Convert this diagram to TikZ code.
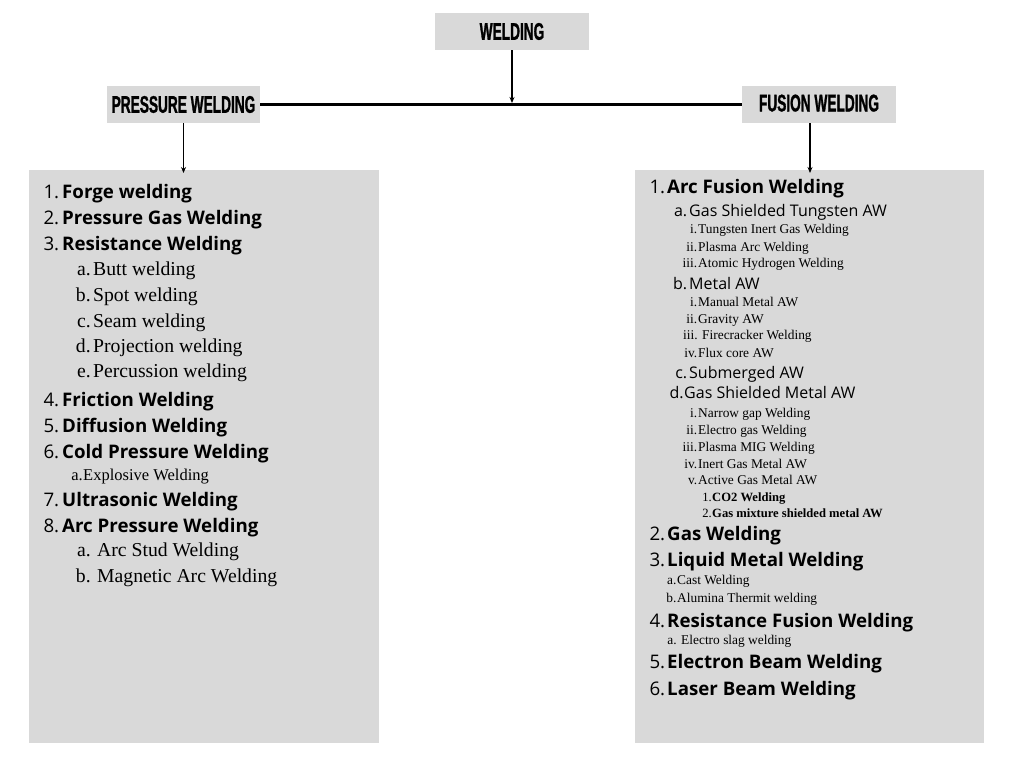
\documentclass[tikz,border=0pt]{standalone}
\usepackage{fontspec}
\newfontfamily\headfont[FakeStretch=0.57, FakeBold=1.2]{Liberation Sans}
\newfontfamily\osans{Open Sans}
\newfontfamily\lserif{Liberation Serif}
\usetikzlibrary{arrows.meta, positioning}
\definecolor{boxgray}{HTML}{D9D9D9}

\begin{document}
\begin{tikzpicture}[
    x=1pt, y=-1pt,
    head/.style={rectangle, fill=boxgray, minimum width=154pt, minimum height=37pt, inner sep=0pt, font=\headfont\bfseries\fontsize{24}{26}\selectfont},
    listbox/.style={rectangle, fill=boxgray, minimum width=350pt, minimum height=573pt, inner sep=0pt, anchor=north west},
    arrow/.style={-{Stealth[length=6pt, width=5pt]}, line width=1.3pt},
    mainitem/.style={anchor=base west, inner sep=0pt, font=\osans\bfseries\fontsize{18.7}{20}\selectfont},
    subitem/.style={anchor=base west, inner sep=0pt, font=\osans\fontsize{16}{18}\selectfont},
    serifitem/.style={anchor=base west, inner sep=0pt, font=\lserif\fontsize{#1}{#1}\selectfont},
    serifitem/.default=13.4,
    boldserif/.style={anchor=base west, inner sep=0pt, font=\lserif\bfseries\fontsize{12.6}{13}\selectfont}
]
    \useasboundingbox (0,0) rectangle (1024,768);

    % boxes
    \node[head] (weld) at (512,31.5) {WELDING};
    \node[head, minimum width=153pt] (pw) at (183.5,104.5) {PRESSURE WELDING};
    \node[head] (fw) at (819,104.5) {\raisebox{3pt}{FUSION WELDING}};
    \node[listbox] (plist) at (29,170) {};
    \node[listbox, minimum width=349pt] (flist) at (635,170) {};

    % connectors
    \draw[line width=3pt] (pw.east) -- (fw.west);
    \draw[arrow, shorten >=1.5pt] (weld.south) -- (weld.south |- pw.east);
    \draw[arrow, shorten >=-3pt] (pw.south) -- (pw.south |- plist.north);
    \coordinate (fwout) at ([xshift=-9pt]fw.south);
    \draw[arrow, shorten >=-3pt] (fwout) -- (fwout |- flist.north);

    % pressure welding list
    \foreach \y/\n/\t [count=\i] in {198/1./Forge welding, 224/2./Pressure Gas Welding, 250/3./Resistance Welding,
        406/4./Friction Welding, 432/5./Diffusion Welding, 458/6./Cold Pressure Welding,
        506/7./Ultrasonic Welding, 532/8./Arc Pressure Welding}
        \node[mainitem] (pm\i) at (62,\y) {\llap{\mdseries\n\hspace{3pt}}\t};
    \foreach \x/\y/\g/\n/\t [count=\i] in {93/275/2.5/a./Butt welding, 93/301/2.5/b./Spot welding,
        93/327/2.5/c./Seam welding, 93/352/2.5/d./Projection welding, 93/377/2.5/e./Percussion welding,
        97/556/6.5/a./Arc Stud Welding, 97/582/6.5/b./Magnetic Arc Welding}
        \node[serifitem=19.7] (ps\i) at (\x,\y) {\llap{\n\hspace{\g pt}}\t};
    \node[serifitem=16.5] (pe) at (83,480) {\llap{a.\hspace{0.5pt}}Explosive Welding};

    % fusion welding list
    \foreach \y/\n/\t [count=\i] in {193/1./Arc Fusion Welding, 540/2./Gas Welding, 566/3./Liquid Metal Welding,
        627/4./Resistance Fusion Welding, 668/5./Electron Beam Welding, 695/6./Laser Beam Welding}
        \node[mainitem] (fm\i) at (667,\y) {\llap{\mdseries\n\hspace{2pt}}\t};
    \foreach \x/\y/\g/\n/\t [count=\i] in {689/216/2/a./Gas Shielded Tungsten AW, 689/289/2/b./Metal AW,
        689/378/2/c./Submerged AW, 684/398/0.5/d./Gas Shielded Metal AW}
        \node[subitem] (fs\i) at (\x,\y) {\llap{\n\hspace{\g pt}}\t};
    \foreach \x/\y/\g/\n/\t [count=\i] in {698/233/1/i./Tungsten Inert Gas Welding, 698/251/1/ii./Plasma Arc Welding,
        698/267/1/iii./Atomic Hydrogen Welding, 698/306/1/i./Manual Metal AW, 698/323/1/ii./Gravity AW,
        702/339/4.5/iii./Firecracker Welding, 698/357/1/iv./Flux core AW, 698/417/1/i./Narrow gap Welding,
        698/434/1/ii./Electro gas Welding, 698/451/1/iii./Plasma MIG Welding, 698/468/1/iv./Inert Gas Metal AW,
        698/484/1/v./Active Gas Metal AW, 677/584/0.7/a./Cast Welding, 677/602/0.7/b./Alumina Thermit welding,
        681/644/4.5/a./Electro slag welding}
        \node[serifitem] (fr\i) at (\x,\y) {\llap{\n\hspace{\g pt}}\t};
    \foreach \y/\n/\t [count=\i] in {501/1./CO2 Welding, 517/2./Gas mixture shielded metal AW}
        \node[boldserif] (fb\i) at (712,\y) {\llap{\mdseries\n\hspace{0.5pt}}\t};
\end{tikzpicture}
\end{document}
